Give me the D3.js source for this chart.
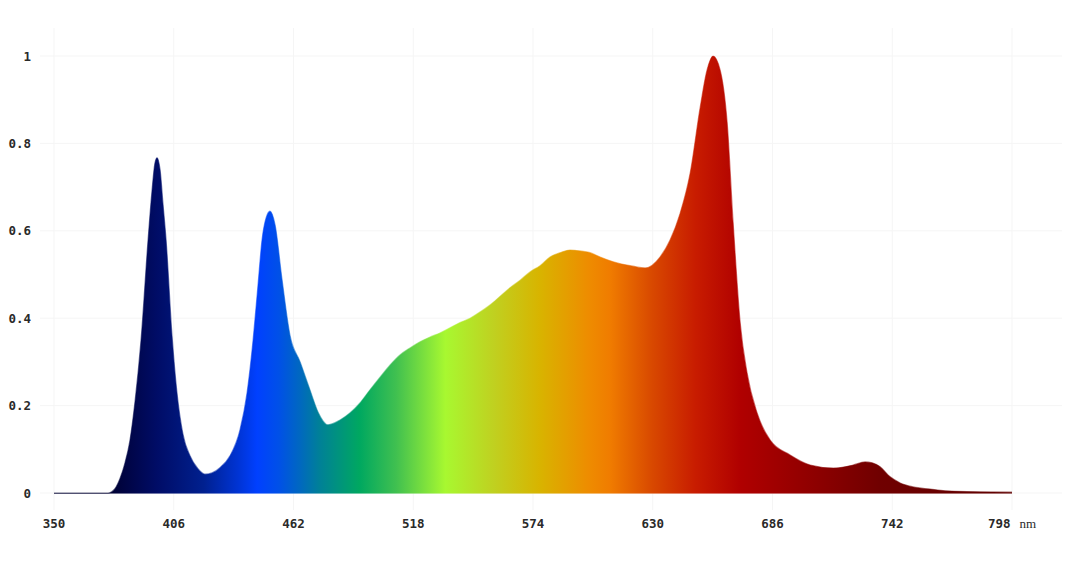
<!DOCTYPE html>
<html><head><meta charset="utf-8">
<script src="https://cdn.jsdelivr.net/npm/d3@7"></script>
<style>body{margin:0;background:#fff}svg{display:block}</style>
</head><body><svg id="c" width="1066" height="563"></svg>
<script>
const wavelengths = [350,370,375.3,378.5,380.9,383.2,385.5,387.9,390.7,394.0,395.8,397.2,398.2,399.6,401.0,402.4,405.2,407.5,410.3,413.6,417.4,420.6,423.9,427.6,432.3,437.0,440.3,443.1,445.4,447.3,449.2,451.0,453.4,456.6,460.4,465.1,469.7,473.5,478.2,483.8,488.4,493.1,497.8,502.5,507.2,511.8,516.5,521.2,525.9,530.5,535.2,539.9,544.6,549.2,553.9,558.6,563.3,568.0,572.6,577.3,582.0,586.7,591.3,596.0,600.7,605.4,611.5,620.8,626.4,633.4,638.1,642.8,647.5,652.2,655.4,658.2,661.5,664.8,667.6,670.9,674.1,678.8,684.9,694.2,703.6,714.4,723.7,729.3,732.6,736.3,741.0,745.7,751.8,759.7,766.7,779.8,798];
const intensity = [0,0,0,0.01,0.034,0.069,0.12,0.21,0.35,0.58,0.69,0.755,0.767,0.74,0.66,0.58,0.36,0.23,0.135,0.085,0.055,0.043,0.046,0.058,0.085,0.145,0.23,0.35,0.476,0.58,0.63,0.645,0.613,0.49,0.36,0.30,0.236,0.185,0.156,0.167,0.183,0.206,0.236,0.265,0.293,0.316,0.332,0.346,0.357,0.366,0.378,0.39,0.40,0.414,0.43,0.45,0.47,0.487,0.506,0.52,0.54,0.55,0.556,0.554,0.55,0.54,0.529,0.519,0.515,0.54,0.579,0.64,0.732,0.883,0.968,1.0,0.968,0.847,0.618,0.389,0.275,0.183,0.121,0.087,0.064,0.057,0.064,0.071,0.069,0.06,0.037,0.023,0.014,0.009,0.005,0.003,0.002];
const xTicks = [350,406,462,518,574,630,686,742,798];
const yTicks = [0,0.2,0.4,0.6,0.8,1];
const gradNm = [350,375,398,420,437,445,455,465,474,493,510,533,556,577,600,610,630,650,671,736,798];
const gradColors = ["#000030","#000030","#000c66","#00208f","#0035d8","#0040ff","#0050e8","#0068c0","#008098","#00a860","#40c050","#a8f830","#c0d020","#d8b400","#ee8c00","#f07c00","#d84800","#c81c00","#b00000","#700000","#600000"];

const svg = d3.select("#c");
const x = d3.scaleLinear().domain([350,798]).range([54,1012]);
const y = d3.scaleLinear().domain([0,1]).range([493,56]);

// gridlines
svg.append("g").selectAll("line").data(yTicks).join("line")
  .attr("x1",40).attr("x2",1062).attr("y1",d=>y(d)).attr("y2",d=>y(d))
  .attr("stroke","#f5f5f5").attr("stroke-width",1);
svg.append("g").selectAll("line").data(xTicks).join("line")
  .attr("x1",d=>x(d)).attr("x2",d=>x(d)).attr("y1",28).attr("y2",510)
  .attr("stroke","#f5f5f5").attr("stroke-width",1);

const defs = svg.append("defs");
const grad = defs.append("linearGradient").attr("id","spec")
  .attr("gradientUnits","userSpaceOnUse")
  .attr("x1",x(350)).attr("x2",x(798)).attr("y1",0).attr("y2",0);
grad.selectAll("stop").data(gradNm).join("stop")
  .attr("offset",d=>(x(d)-x(350))/(x(798)-x(350)))
  .attr("stop-color",(d,i)=>gradColors[i]);

const pts = wavelengths.map((w,i)=>[w,intensity[i]]);
const area = d3.area().x(d=>x(d[0])).y0(y(0)).y1(d=>y(d[1])).curve(d3.curveMonotoneX);
const line = d3.line().x(d=>x(d[0])).y(d=>y(d[1])).curve(d3.curveMonotoneX);
svg.append("path").datum(pts).attr("d",area).attr("fill","url(#spec)");
svg.append("path").datum(pts).attr("d",line).attr("fill","none")
  .attr("stroke","url(#spec)").attr("stroke-width",1.2).attr("stroke-opacity",0.55);
svg.append("line").attr("x1",x(350)).attr("x2",x(798)).attr("y1",y(0)+0.5).attr("y2",y(0)+0.5)
  .attr("stroke","url(#spec)").attr("stroke-width",1.2).attr("stroke-opacity",0.55);

// y labels
svg.append("g").selectAll("text").data(yTicks).join("text")
  .attr("x",31).attr("y",d=>y(d)+4.5)
  .attr("text-anchor","end")
  .attr("font-family","'DejaVu Sans Mono', monospace").attr("font-weight","bold")
  .attr("font-size",12.5).attr("fill","#2a2a2a")
  .text(d=>d3.format("")(d));

// x labels
const xl = svg.append("g").selectAll("text").data(xTicks).join("text")
  .attr("x",d=>x(d)).attr("y",528)
  .attr("text-anchor","middle")
  .attr("font-family","'DejaVu Sans Mono', monospace").attr("font-weight","bold")
  .attr("font-size",12.5).attr("fill","#2a2a2a");
xl.append("tspan").text(d=>d);
xl.filter((d,i)=>i===xTicks.length-1).append("tspan")
  .attr("dx",9).attr("font-family","'Liberation Serif', serif").attr("font-weight","normal")
  .attr("font-size",13).text("nm");
</script></body></html>
